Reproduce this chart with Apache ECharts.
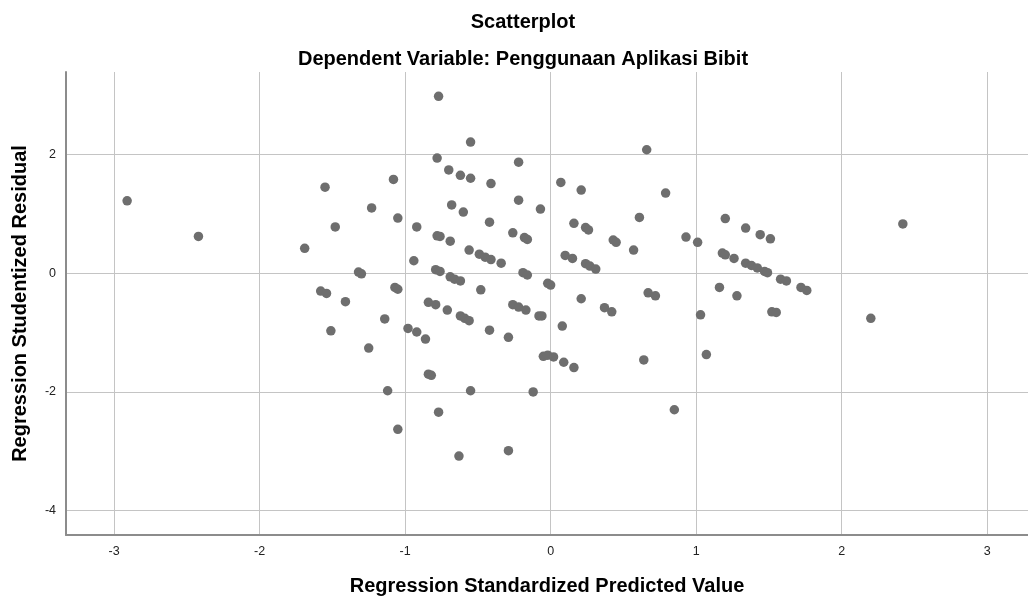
<!DOCTYPE html>
<html>
<head>
<meta charset="utf-8">
<script src="https://cdn.jsdelivr.net/npm/echarts@6/dist/echarts.min.js"></script>
<style>html,body{margin:0;padding:0;background:#fff}#c{width:1028px;height:598px}</style>
</head>
<body>
<div id="c"></div>
<script>
const titleText = "Scatterplot";
const subtitleText = "Dependent Variable: Penggunaan Aplikasi Bibit";
const xAxisName = "Regression Standardized Predicted Value";
const yAxisName = "Regression Studentized Residual";
const xTicks = [-3, -2, -1, 0, 1, 2, 3];
const yTicks = [-4, -2, 0, 2];

const predicted = [
  -2.91,-2.42,-1.55,-1.08,-1.23,-1.48,-1.69,-1.32,-1.30,-1.58,
  -1.54,-1.41,-1.14,-1.51,-1.25,-1.12,-0.77,-0.55,0.66,-0.78,
  -0.22,-0.70,-0.62,-0.55,-0.41,0.07,0.21,0.79,-0.68,-0.60,
  -0.22,-0.07,-1.05,-0.92,-0.42,0.16,0.24,0.26,0.61,-0.78,
  -0.76,-0.69,-0.26,-0.18,-0.16,0.43,0.45,0.57,0.93,1.01,
  -0.94,-0.56,-0.49,-0.45,-0.41,-0.34,0.10,0.15,0.24,0.27,
  0.31,-0.79,-0.76,-0.69,-0.66,-0.62,-0.19,-0.16,-0.02,0.00,
  -1.07,-1.05,-0.48,0.21,0.67,0.72,-0.84,-0.79,-0.71,-0.62,
  -0.59,-0.56,-0.26,-0.22,-0.17,-0.08,-0.06,0.37,0.42,-0.98,
  -0.92,-0.86,-0.42,-0.29,0.08,1.03,-0.05,-0.02,0.02,0.09,
  0.16,0.64,1.07,-0.84,-0.82,-0.55,-0.12,-0.77,0.85,-1.05,
  -0.29,-0.63,1.20,1.34,1.44,1.51,2.42,1.18,1.20,1.26,
  1.34,1.38,1.42,1.47,1.49,1.58,1.62,1.72,1.76,1.16,
  1.28,1.52,1.55,2.20
];
const residual = [
  1.22,0.62,1.45,1.58,1.10,0.78,0.42,0.02,-0.01,-0.30,
  -0.34,-0.48,-0.77,-0.97,-1.26,-1.98,2.98,2.21,2.08,1.94,
  1.87,1.74,1.65,1.60,1.51,1.53,1.40,1.35,1.15,1.03,
  1.23,1.08,0.93,0.78,0.86,0.84,0.77,0.73,0.94,0.63,
  0.62,0.54,0.68,0.60,0.57,0.56,0.52,0.39,0.61,0.52,
  0.21,0.39,0.32,0.27,0.23,0.17,0.30,0.25,0.16,0.12,
  0.07,0.06,0.03,-0.06,-0.10,-0.13,0.01,-0.03,-0.17,-0.20,
  -0.24,-0.27,-0.28,-0.43,-0.33,-0.38,-0.49,-0.53,-0.62,-0.72,
  -0.76,-0.80,-0.53,-0.57,-0.62,-0.72,-0.72,-0.58,-0.65,-0.93,
  -0.99,-1.11,-0.96,-1.08,-0.89,-0.70,-1.40,-1.38,-1.41,-1.50,
  -1.59,-1.46,-1.37,-1.70,-1.72,-1.98,-2.00,-2.34,-2.30,-2.63,
  -2.99,-3.08,0.92,0.76,0.65,0.58,0.83,0.34,0.31,0.25,
  0.17,0.13,0.09,0.03,0.01,-0.10,-0.13,-0.24,-0.29,-0.24,
  -0.38,-0.65,-0.66,-0.76
];

const points = predicted.map((x, i) => [x, residual[i]]);
const FONT = "'Liberation Sans', Arial, sans-serif";

const chart = echarts.init(document.getElementById('c'), null, {renderer: 'canvas'});
chart.setOption({
  animation: false,
  backgroundColor: '#ffffff',
  title: [
    {text: titleText, left: 518, textAlign: 'center', top: 7,
     textStyle: {fontFamily: FONT, fontSize: 20, fontWeight: 'bold', color: '#000'}},
    {text: subtitleText, left: 518, textAlign: 'center', top: 44,
     textStyle: {fontFamily: FONT, fontSize: 20, fontWeight: 'bold', color: '#000'}}
  ],
  grid: {left: 66, right: 0, top: 72, bottom: 63, outerBoundsMode: 'none', containLabel: false},
  xAxis: {
    type: 'value', min: -3.33, max: 3.28,
    name: xAxisName, nameLocation: 'middle', nameGap: 41,
    nameTextStyle: {fontFamily: FONT, fontSize: 20, fontWeight: 'bold', color: '#000'},
    axisLine: {show: true, onZero: false, lineStyle: {color: '#8c8c8c', width: 2}},
    axisTick: {show: false, customValues: xTicks},
    axisLabel: {customValues: xTicks, fontFamily: FONT, fontSize: 12.5, color: '#222', margin: 10},
    splitLine: {show: true, lineStyle: {color: '#c4c4c4', width: 1}}
  },
  yAxis: {
    type: 'value', min: -4.41, max: 3.39,
    name: yAxisName, nameLocation: 'middle', nameGap: 36,
    nameTextStyle: {fontFamily: FONT, fontSize: 20, fontWeight: 'bold', color: '#000'},
    axisLine: {show: true, onZero: false, lineStyle: {color: '#8c8c8c', width: 2}},
    axisTick: {show: false, customValues: yTicks},
    axisLabel: {customValues: yTicks, fontFamily: FONT, fontSize: 12.5, color: '#222', margin: 10},
    splitLine: {show: true, lineStyle: {color: '#c4c4c4', width: 1}}
  },
  series: [{
    type: 'scatter',
    data: points,
    symbol: 'circle',
    symbolSize: 9.5,
    itemStyle: {color: '#6e6e6e', opacity: 1},
    emphasis: {disabled: true}
  }]
});
</script>
</body>
</html>
